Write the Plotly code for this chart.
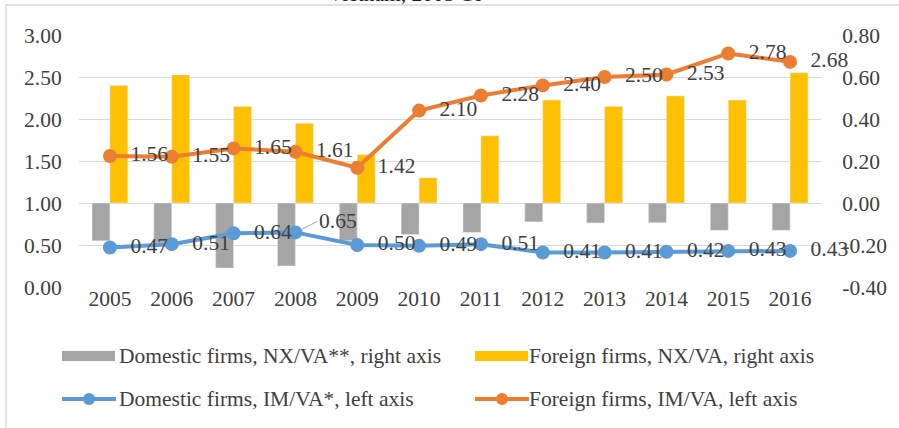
import plotly.graph_objects as go

years = ["2005", "2006", "2007", "2008", "2009", "2010", "2011", "2012", "2013", "2014", "2015", "2016"]
dom_nx = [-0.18, -0.19, -0.31, -0.30, -0.18, -0.15, -0.14, -0.09, -0.095, -0.094, -0.13, -0.13]
for_nx = [0.56, 0.61, 0.46, 0.38, 0.23, 0.12, 0.32, 0.49, 0.46, 0.51, 0.49, 0.62]
dom_im = [0.47, 0.51, 0.64, 0.65, 0.50, 0.49, 0.51, 0.41, 0.41, 0.42, 0.43, 0.43]
for_im = [1.56, 1.55, 1.65, 1.61, 1.42, 2.10, 2.28, 2.40, 2.50, 2.53, 2.78, 2.68]

left_ticks = [0, 0.5, 1.0, 1.5, 2.0, 2.5, 3.0]
right_ticks = [-0.4, -0.2, 0.0, 0.2, 0.4, 0.6, 0.8]

names = ["Domestic firms, NX/VA**, right axis", "Foreign firms, NX/VA, right axis",
         "Domestic firms, IM/VA*, left axis", "Foreign firms, IM/VA, left axis"]

GREY = "#a5a5a5"
YELLOW = "#ffc000"
BLUE = "#5b9bd5"
ORANGE = "#ed7d31"
FONT = "Liberation Serif, Times New Roman, serif"
TXT = "#404040"
FS = 21.5

W, H = 899, 428
L, R, T, B = 79, 78, 35, 141
PW, PH = W - L - R, H - T - B


def px(x):
    return (x - L) / PW


def py(y):
    return (H - B - y) / PH


pad = "\u00a0\u00a0"
dom_text = [pad + f"{v:.2f}" for v in dom_im]
dom_text[3] = ""
for_text = [pad + f"{v:.2f}" for v in for_im]

fig = go.Figure()
fig.add_trace(go.Bar(x=years, y=dom_nx, name=names[0], marker_color=GREY, yaxis="y", showlegend=False))
fig.add_trace(go.Bar(x=years, y=for_nx, name=names[1], marker_color=YELLOW, yaxis="y", showlegend=False))
fig.add_trace(go.Scatter(x=years, y=dom_im, name=names[2], mode="lines+markers+text", yaxis="y2",
                         line=dict(color=BLUE, width=4), marker=dict(color=BLUE, size=14),
                         text=dom_text, textposition="middle right",
                         textfont=dict(family=FONT, size=FS, color=TXT), showlegend=False, cliponaxis=False))
fig.add_trace(go.Scatter(x=years, y=for_im, name=names[3], mode="lines+markers+text", yaxis="y2",
                         line=dict(color=ORANGE, width=4), marker=dict(color=ORANGE, size=14),
                         text=for_text, textposition="middle right",
                         textfont=dict(family=FONT, size=FS, color=TXT), showlegend=False, cliponaxis=False))

# label with leader line for 2008 domestic IM/VA (x given as category index)
fig.add_annotation(x=years.index("2008"), y=dom_im[3], xref="x", yref="y2", text=f"{dom_im[3]:.2f}",
                   showarrow=True, arrowhead=0, arrowwidth=1, arrowcolor="#a6a6a6", ax=22, ay=-11,
                   xanchor="left", yanchor="middle",
                   font=dict(family=FONT, size=FS, color=TXT), standoff=5)

shapes = []
annos = []
# outer frame (partly cropped)
shapes.append(dict(type="rect", xref="paper", yref="paper", x0=px(6), x1=px(960), y0=py(5), y1=py(500),
                   line=dict(color="#d9d9d9", width=1.5), fillcolor="rgba(0,0,0,0)", layer="below"))
# legend
leg = [(62, 356, "bar", GREY, names[0], 117),
       (475, 356, "bar", YELLOW, names[1], 527),
       (62, 399, "line", BLUE, names[2], 117),
       (475, 399, "line", ORANGE, names[3], 527)]
for x0, yc, kind, col, nm, tx in leg:
    if kind == "bar":
        shapes.append(dict(type="rect", xref="paper", yref="paper", x0=px(x0), x1=px(x0 + 53),
                           y0=py(yc + 5), y1=py(yc - 5), fillcolor=col, line=dict(width=0)))
    else:
        shapes.append(dict(type="line", xref="paper", yref="paper", x0=px(x0), x1=px(x0 + 54),
                           y0=py(yc), y1=py(yc), line=dict(color=col, width=4)))
        shapes.append(dict(type="circle", xref="paper", yref="paper", x0=px(x0 + 21), x1=px(x0 + 33),
                           y0=py(yc + 6), y1=py(yc - 6), fillcolor=col, line=dict(width=0)))
    annos.append(dict(xref="paper", yref="paper", x=px(tx), y=py(yc), text=nm, showarrow=False,
                      xanchor="left", yanchor="middle", font=dict(family=FONT, size=FS, color=TXT)))

# cropped title
annos.append(dict(xref="paper", yref="paper", x=px(405), y=py(8), text="Vietnam, 2005-16", showarrow=False,
                  xanchor="center", yanchor="bottom", font=dict(family=FONT, size=FS, color="#1a1a2e")))

for a in annos:
    fig.add_annotation(**a)

fig.update_layout(
    width=W, height=H,
    margin=dict(l=L, r=R, t=T, b=B, pad=0, autoexpand=False),
    paper_bgcolor="white", plot_bgcolor="white",
    barmode="group", bargap=0.42, bargroupgap=0,
    shapes=shapes,
    showlegend=False,
    xaxis=dict(type="category", range=[-0.5, len(years) - 0.5], autorange=False,
               showgrid=False, showline=False, zeroline=False, automargin=False,
               tickfont=dict(family=FONT, size=FS, color=TXT), ticks="", ticklabelstandoff=-4),
    yaxis=dict(side="right", range=[-0.4, 0.8], tickvals=right_ticks,
               ticktext=[f"{v:.2f}" for v in right_ticks], automargin=False,
               showgrid=True, gridcolor="#d9d9d9", gridwidth=1.3, zeroline=False, showline=False,
               tickfont=dict(family=FONT, size=FS, color=TXT), ticks="outside", ticklen=16,
               tickcolor="rgba(0,0,0,0)"),
    yaxis2=dict(side="left", overlaying="y", range=[0, 3.0], tickvals=left_ticks, automargin=False,
                ticktext=[f"{v:.2f}" for v in left_ticks],
                showgrid=False, zeroline=False, showline=False,
                tickfont=dict(family=FONT, size=FS, color=TXT), ticks="outside", ticklen=12,
                tickcolor="rgba(0,0,0,0)"),
)

fig.write_html("out.html", config={"displayModeBar": False},
               post_script="document.body.style.margin='0';document.body.style.overflow='hidden';")
